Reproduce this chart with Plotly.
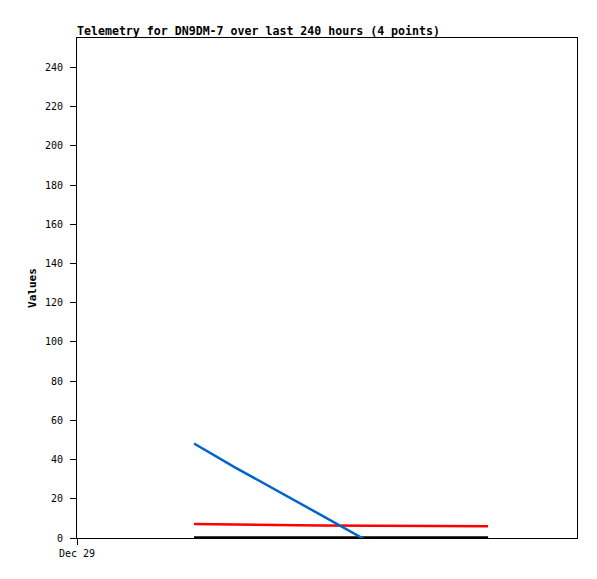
import plotly.graph_objects as go

times = ["2023-12-31 08:10", "2024-01-01 04:00", "2024-01-02 21:00", "2024-01-06 05:20"]
blue_vals = [48.2, 35.9, 11.8, -36.0]
red_vals = [7.1, 6.8, 6.4, 6.0]
black_vals = [0.3, 0.3, 0.3, 0.3]
y_ticks = [0, 20, 40, 60, 80, 100, 120, 140, 160, 180, 200, 220, 240]
x_tick_vals = ["2023-12-29 00:00"]
x_tick_text = ["Dec 29"]

mono = "DejaVu Sans Mono"
W, H = 589, 571
fig = go.Figure()
fig.add_trace(go.Scatter(x=times, y=black_vals, mode="lines", line=dict(color="#000000", width=2.5)))
fig.add_trace(go.Scatter(x=times, y=red_vals, mode="lines", line=dict(color="#ff0000", width=2.5)))
fig.add_trace(go.Scatter(x=times, y=blue_vals, mode="lines", line=dict(color="#0066cc", width=2.5)))

fig.update_layout(
    width=W, height=H,
    margin=dict(l=69, r=20, t=30, b=41),
    paper_bgcolor="white", plot_bgcolor="white",
    showlegend=False,
    title=dict(text="<b>Telemetry for DN9DM-7 over last 240 hours (4 points)</b>",
               x=69/W, xanchor="left", y=1-23/H, yanchor="middle",
               font=dict(family=mono, size=11.6, color="black")),
    font=dict(family=mono, size=10, color="black"),
)
fig.update_xaxes(
    type="date", range=["2023-12-29 00:00", "2024-01-08 00:00"],
    tickvals=x_tick_vals, ticktext=x_tick_text,
    showgrid=False, zeroline=False,
    showline=True, linecolor="black", linewidth=1, mirror=True,
    ticks="outside", ticklen=6, tickcolor="black",
    tickfont=dict(family=mono, size=10),
)
fig.update_yaxes(
    range=[0, 255], tickvals=y_ticks,
    showgrid=False, zeroline=False,
    showline=True, linecolor="black", linewidth=1, mirror=True,
    ticks="outside", ticklen=6, tickcolor="black",
    ticklabelstandoff=5,
    tickfont=dict(family=mono, size=10),
    title=dict(text="<b>Values</b>", font=dict(family=mono, size=11), standoff=6),
)
fig.write_html("out.html")
